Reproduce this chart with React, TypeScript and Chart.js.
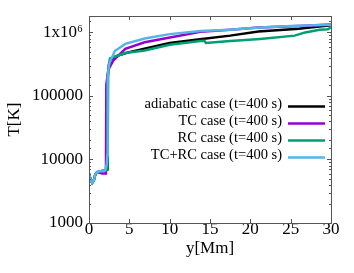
import { useEffect, useRef } from "react";
import { Chart, registerables } from "chart.js";

Chart.register(...registerables);

const seriesLabels = [
  "adiabatic case (t=400 s)",
  "TC case (t=400 s)",
  "RC case (t=400 s)",
  "TC+RC case (t=400 s)",
];
const seriesColors = ["#000000", "#9400d3", "#009e73", "#56b4e9"];

const adiabaticY = [0, 0.2, 0.4, 0.6, 0.8, 1.0, 1.3, 1.6, 2.0, 2.25, 2.32, 2.5, 3, 4, 5, 7, 10, 14, 17.5, 21, 26, 30];
const adiabaticT = [6000, 4800, 4300, 4700, 5900, 6300, 6500, 6600, 6700, 7000, 2.0e5, 3.3e5, 4.0e5, 4.5e5, 4.9e5, 5.6e5, 6.8e5, 7.9e5, 8.9e5, 1.03e6, 1.14e6, 1.3e6];

const tcY = [0, 0.2, 0.4, 0.6, 0.8, 1.0, 1.3, 1.6, 2.1, 2.15, 2.4, 3, 4.5, 6.9, 10.7, 13.8, 17.5, 21, 26, 30];
const tcT = [6000, 4800, 4300, 4700, 5900, 6300, 6200, 6000, 6000, 1.5e5, 2.6e5, 3.6e5, 5.5e5, 7.0e5, 8.6e5, 1.02e6, 1.1e6, 1.2e6, 1.26e6, 1.33e6];

const rcY = [0, 0.2, 0.4, 0.6, 0.8, 1.0, 1.3, 1.6, 2.0, 2.3, 2.38, 2.6, 3.5, 4.5, 6.9, 10, 13.8, 14.3, 14.5, 17.5, 21.2, 25.5, 26.8, 28.6, 29.6, 30];
const rcT = [6000, 4800, 4300, 4700, 5900, 6300, 6500, 6600, 6700, 7000, 2.5e5, 3.9e5, 4.3e5, 4.75e5, 5.2e5, 6.4e5, 7.3e5, 7.4e5, 6.8e5, 7.3e5, 7.9e5, 8.9e5, 1.0e6, 1.1e6, 1.12e6, 1.2e6];

const tcrcY = [0, 0.2, 0.4, 0.6, 0.8, 1.0, 1.3, 1.6, 2.0, 2.2, 2.28, 2.32, 2.5, 3.2, 4.5, 6.9, 10, 13.8, 17.5, 21.2, 25, 30];
const tcrcT = [6000, 4800, 4300, 4700, 5900, 6300, 6500, 6600, 6700, 8500, 12000, 2.0e5, 3.2e5, 5.1e5, 6.6e5, 8.0e5, 9.4e5, 1.05e6, 1.1e6, 1.2e6, 1.26e6, 1.32e6];

const xTicks = [0, 5, 10, 15, 20, 25, 30];
const yTickLabels: Record<number, string> = {
  1000: "1000",
  10000: "10000",
  100000: "100000",
  1000000: "1x10\u2076",
};

const FONT = '"Liberation Serif", "Times New Roman", serif';

function pts(xs: number[], ys: number[]) {
  return xs.map((x, i) => ({ x, y: ys[i] }));
}

const framePlugin = {
  id: "frameTicks",
  afterDatasetsDraw(chart: any) {
    const { ctx, chartArea } = chart;
    const { left, right, top, bottom } = chartArea;
    const xs = chart.scales.x;
    const ys = chart.scales.y;
    ctx.save();
    ctx.strokeStyle = "#555555";
    ctx.lineWidth = 1;
    ctx.beginPath();
    for (const v of xTicks) {
      const px = Math.round(xs.getPixelForValue(v)) + 0.5;
      ctx.moveTo(px, bottom);
      ctx.lineTo(px, bottom - 4);
      ctx.moveTo(px, top);
      ctx.lineTo(px, top + 4);
    }
    for (const t of ys.ticks) {
      const v = t.value;
      const lg = Math.log10(v);
      const major = Math.abs(lg - Math.round(lg)) < 1e-9;
      const len = major ? 4 : 2;
      const py = Math.round(ys.getPixelForValue(v)) + 0.5;
      if (py <= top + 1 || py >= bottom - 1) continue;
      ctx.moveTo(left, py);
      ctx.lineTo(left + len, py);
      ctx.moveTo(right, py);
      ctx.lineTo(right - len, py);
    }
    ctx.stroke();
    ctx.strokeRect(Math.round(left) + 0.5, Math.round(top) + 0.5, Math.round(right - left), Math.round(bottom - top));
    ctx.restore();
  },
  afterDraw(chart: any) {
    const { ctx, chartArea } = chart;
    ctx.save();
    ctx.font = `14.5px ${FONT}`;
    ctx.textAlign = "right";
    ctx.textBaseline = "middle";
    chart.data.datasets.forEach((ds: any, i: number) => {
      const y = 104.5 + i * 17;
      ctx.fillStyle = "#000";
      ctx.fillText(ds.label, chartArea.right - 49, y);
      ctx.strokeStyle = ds.borderColor;
      ctx.lineWidth = 2.5;
      ctx.beginPath();
      ctx.moveTo(chartArea.right - 43, y + 2);
      ctx.lineTo(chartArea.right - 6, y + 2);
      ctx.stroke();
    });
    ctx.restore();
  },
};

export default function App() {
  const ref = useRef<HTMLCanvasElement>(null);
  useEffect(() => {
    if (!ref.current) return;
    const allX = [adiabaticY, tcY, rcY, tcrcY];
    const allT = [adiabaticT, tcT, rcT, tcrcT];
    const orders = [4, 3, 2, 1];
    const chart = new Chart(ref.current, {
      type: "line",
      data: {
        datasets: seriesLabels.map((label, i) => ({
          label,
          data: pts(allX[i], allT[i]),
          borderColor: seriesColors[i],
          backgroundColor: seriesColors[i],
          borderWidth: 2.5,
          pointRadius: 0,
          tension: 0,
          order: orders[i],
        })),
      },
      options: {
        animation: false,
        responsive: true,
        maintainAspectRatio: false,
        layout: { padding: { left: 0, right: 23, top: 16, bottom: 0 } },
        plugins: { legend: { display: false }, tooltip: { enabled: false } },
        scales: {
          x: {
            type: "linear",
            min: 0,
            max: 30,
            grid: { display: false, drawTicks: false },
            border: { display: false },
            ticks: {
              stepSize: 5,
              padding: -4,
              color: "#000",
              font: { family: FONT, size: 17 },
              maxRotation: 0,
            },
            title: {
              display: true,
              text: "y[Mm]",
              color: "#000",
              font: { family: FONT, size: 17 },
              padding: { top: 0, bottom: 14 },
            },
            afterFit(scale: any) {
              scale.height = 50;
            },
          },
          y: {
            type: "logarithmic",
            min: 1000,
            max: 1.8e6,
            grid: { display: false, drawTicks: false },
            border: { display: false },
            ticks: {
              autoSkip: false,
              padding: 6,
              color: "#000",
              font: { family: FONT, size: 17 },
              callback: (v: any) => yTickLabels[Number(v)] ?? "",
            },
            title: {
              display: true,
              text: "T[K]",
              color: "#000",
              font: { family: FONT, size: 17 },
              padding: { top: 4, bottom: 0 },
            },
            afterFit(scale: any) {
              scale.width = 89;
            },
          },
        },
      },
      plugins: [framePlugin],
    });
    return () => chart.destroy();
  }, []);
  return (
    <div style={{ position: "fixed", left: 0, top: 0, width: 354, height: 273, background: "#fff" }}>
      <canvas ref={ref} />
    </div>
  );
}
